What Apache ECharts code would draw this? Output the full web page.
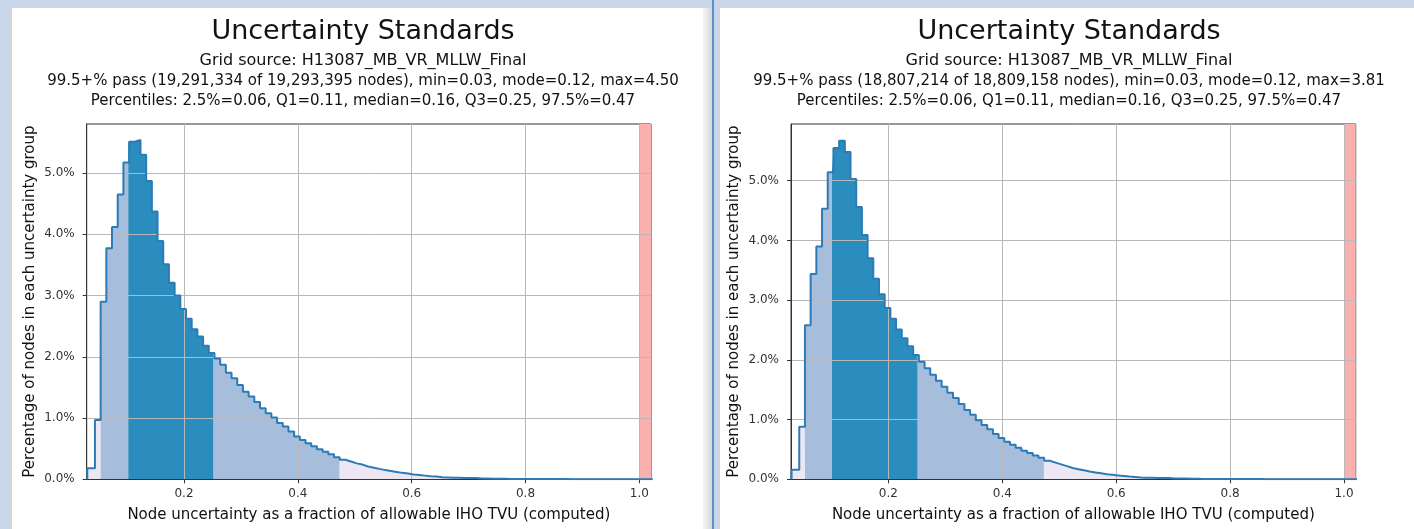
<!DOCTYPE html>
<html><head><meta charset="utf-8">
<script src="https://cdn.jsdelivr.net/npm/echarts@6/dist/echarts.min.js"></script>
<style>html,body{margin:0;padding:0;background:#fff}#c{width:1414px;height:529px}</style>
</head><body><div id="c"></div>
<script>
// ---------- data ----------
const titleText = 'Uncertainty Standards';
const gridSource = 'Grid source: H13087_MB_VR_MLLW_Final';
const leftPassLine = '99.5+% pass (19,291,334 of 19,293,395 nodes), min=0.03, mode=0.12, max=4.50';
const rightPassLine = '99.5+% pass (18,807,214 of 18,809,158 nodes), min=0.03, mode=0.12, max=3.81';
const percentileLine = 'Percentiles: 2.5%=0.06, Q1=0.11, median=0.16, Q3=0.25, 97.5%=0.47';
const xAxisName = 'Node uncertainty as a fraction of allowable IHO TVU (computed)';
const yAxisName = 'Percentage of nodes in each uncertainty group';

const dataMin = 0.03;          // first bin starts at the data minimum
const binStart = 0.0335;       // nominal left edge of regular bins
const binWidth = 0.01;
const xRange = [0.029, 1.0205];
const xTicks = [0.2, 0.4, 0.6, 0.8, 1.0];
const yTicks = [0, 1, 2, 3, 4, 5];
const leftYMax = 5.8;
const rightYMax = 5.95;
const limitBand = [1.0, 1.0205];

// percent of nodes per bin
const leftPct = [0.18,0.97,2.90,3.77,4.12,4.65,5.17,5.51,5.54,5.30,4.87,4.37,3.89,3.51,3.21,3.00,2.78,2.62,2.45,2.33,
  2.18,2.06,1.97,1.87,1.74,1.65,1.54,1.43,1.35,1.26,1.16,1.08,1.01,0.92,0.86,0.78,0.70,0.64,0.59,0.54,
  0.49,0.45,0.41,0.36,0.32,0.29,0.26,0.24,0.21,0.19,0.17,0.15,0.135,0.12,0.105,0.095,0.08,0.07,0.06,0.05,
  0.045,0.035,0.03,0.025,0.025,0.02,0.02,0.02,0.015,0.015,0.009,0.008,0.007,0.006,0.006,0.005,0.005,0.004,0.004,0.004,
  0.003,0.003,0.003,0.003,0.002,0.002,0.002,0.002,0.002,0.002,0.002,0.002,0.001,0.001,0.001,0.001,0.001,0.001,0.001];
const rightPct = [0.16,0.88,2.58,3.44,3.90,4.53,5.14,5.55,5.67,5.48,5.03,4.56,4.09,3.70,3.36,3.10,2.87,2.69,2.51,2.36,
  2.23,2.08,1.97,1.86,1.75,1.65,1.55,1.45,1.36,1.26,1.16,1.08,0.99,0.91,0.84,0.76,0.69,0.63,0.58,0.53,
  0.48,0.44,0.40,0.36,0.31,0.28,0.25,0.22,0.19,0.17,0.15,0.13,0.115,0.10,0.085,0.075,0.065,0.055,0.045,0.04,
  0.03,0.025,0.025,0.02,0.02,0.02,0.015,0.015,0.015,0.009,0.008,0.007,0.006,0.005,0.005,0.004,0.004,0.004,0.003,0.003,
  0.003,0.003,0.002,0.002,0.002,0.002,0.002,0.002,0.002,0.001,0.001,0.001,0.001,0.001,0.001,0.001,0.001,0.001,0.001];

// shading boundaries: 2.5%, Q1, Q3, 97.5% (as drawn)
const leftBounds = [0.0535, 0.102, 0.252, 0.4735];
const rightBounds = [0.0530, 0.101, 0.2515, 0.473];

// ---------- helpers ----------
function binStarts(n){ const s=[]; for(let k=0;k<n;k++) s.push(k===0?dataMin:binStart+binWidth*k); return s; }
function stepPoints(vals){
  const s = binStarts(vals.length);
  const pts = [[dataMin,0]];
  for (let k=0;k<vals.length;k++) pts.push([s[k], vals[k]]);
  pts.push([binStart+binWidth*vals.length, vals[vals.length-1]]);
  return pts;
}
function valAt(vals, x){
  const s = binStarts(vals.length);
  let v = vals[0];
  for (let k=0;k<vals.length;k++){ if (s[k] <= x) v = vals[k]; }
  return v;
}
function regionPoints(vals, a, b){
  const s = binStarts(vals.length);
  const pts = [[a, valAt(vals,a)]];
  for (let k=0;k<vals.length;k++){ if (s[k] > a && s[k] < b) pts.push([s[k], vals[k]]); }
  pts.push([b, valAt(vals,b)]);
  return pts;
}
const FONT = 'DejaVu Sans';
const C_OUT = '#ece7f2', C_MID = '#a6bddb', C_IN = '#2b8cbe', C_LINE = '#2a7bb8';

function panelSeries(vals, bounds, idx){
  const end = binStart + binWidth*vals.length;
  const regs = [
    [dataMin, bounds[0], C_OUT], [bounds[0], bounds[1], C_MID], [bounds[1], bounds[2], C_IN],
    [bounds[2], bounds[3], C_MID], [bounds[3], end, C_OUT]
  ];
  const out = regs.map((r,i) => ({
    type:'line', xAxisIndex: idx, yAxisIndex: idx, step:'end', showSymbol:false, silent:true,
    data: regionPoints(vals, r[0], r[1]), lineStyle:{width:0, opacity:0},
    areaStyle:{color:r[2], opacity:1}, z:1,
    markArea: i===0 ? { silent:true, itemStyle:{color:'#fbb0b0'}, data:[[{xAxis:limitBand[0]},{xAxis:limitBand[1]}]] } : undefined
  }));
  out.push({type:'line', xAxisIndex: idx, yAxisIndex: idx, step:'end', showSymbol:false, silent:true,
    data: stepPoints(vals), lineStyle:{color:C_LINE, width:2}, z:5});
  return out;
}
function xAxisCfg(idx){
  return {type:'value', gridIndex: idx, min:xRange[0], max:xRange[1], z:3,
    name:xAxisName, nameLocation:'middle', nameGap:28,
    nameTextStyle:{fontFamily:FONT, fontSize:15, color:'#111'},
    axisLine:{show:true, onZero:false, lineStyle:{color:'#333', width:1}},
    axisTick:{show:true, length:4, customValues:xTicks, lineStyle:{color:'#333'}},
    axisLabel:{customValues:xTicks, fontFamily:FONT, fontSize:12, color:'#333', margin:9,
      formatter:v=>v.toFixed(1)},
    splitLine:{show:true, lineStyle:{color:'#b8b8b8', width:1}}};
}
function yAxisCfg(idx, max){
  return {type:'value', gridIndex: idx, min:0, max:max, z:3,
    name:yAxisName, nameLocation:'middle', nameGap:49, nameRotate:90,
    nameTextStyle:{fontFamily:FONT, fontSize:15, color:'#111'},
    axisLine:{show:true, lineStyle:{color:'#333', width:1}},
    axisTick:{show:true, length:4, customValues:yTicks, lineStyle:{color:'#333'}},
    axisLabel:{customValues:yTicks, fontFamily:FONT, fontSize:12, color:'#333', margin:12,
      formatter:v=>v.toFixed(1)+'%'},
    splitLine:{show:true, lineStyle:{color:'#b8b8b8', width:1}}};
}
function texts(cx, passLine){
  const t = (y, s, size) => ({type:'text', x:cx, y:y, z:10,
    style:{text:s, fontFamily:FONT, fontSize:size, fill:'#111', align:'center', verticalAlign:'middle'}});
  return [t(32, titleText, 27), t(61, gridSource, 16), t(81, passLine, 15), t(101, percentileLine, 15)];
}
const frame = [
  {type:'rect', shape:{x:0,y:0,width:1414,height:8}, style:{fill:'#cad6ea'}, z:0},
  {type:'rect', shape:{x:0,y:0,width:10,height:529}, style:{fill:'#cad6ea'}, z:0},
  {type:'rect', shape:{x:10,y:8,width:2,height:521}, style:{fill:'#d4d4d4'}, z:0},
  {type:'rect', shape:{x:703,y:8,width:9,height:521}, style:{fill:new echarts.graphic.LinearGradient(0,0,1,0,[{offset:0,color:'#f6f6f6'},{offset:1,color:'#d8d8d8'}])}, z:0},
  {type:'rect', shape:{x:712,y:0,width:2,height:529}, style:{fill:'#5a92cc'}, z:0},
  {type:'rect', shape:{x:714,y:8,width:6,height:521}, style:{fill:'#cad6ea'}, z:0}
];

const chart = echarts.init(document.getElementById('c'), null, {renderer:'canvas'});
chart.setOption({
  animation:false,
  backgroundColor:'#fff',
  grid:[
    {left:86.7, top:124, width:564.3, height:355.3, show:true, borderColor:'#333', borderWidth:1, backgroundColor:'#fff'},
    {left:791, top:124, width:564.7, height:355.3, show:true, borderColor:'#333', borderWidth:1, backgroundColor:'#fff'}
  ],
  xAxis:[xAxisCfg(0), xAxisCfg(1)],
  yAxis:[yAxisCfg(0, leftYMax), yAxisCfg(1, rightYMax)],
  series:[...panelSeries(leftPct, leftBounds, 0), ...panelSeries(rightPct, rightBounds, 1)],
  graphic:[...frame, ...texts(363, leftPassLine), ...texts(1069, rightPassLine)]
});
</script></body></html>
